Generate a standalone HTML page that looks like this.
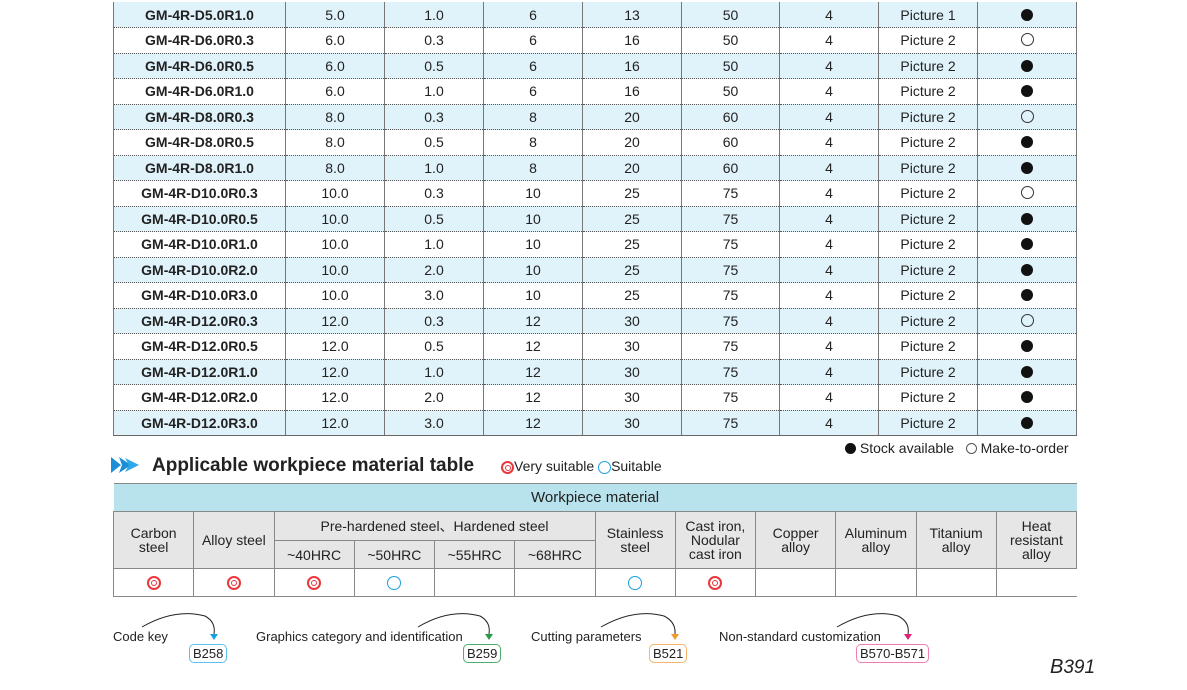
<!DOCTYPE html>
<html><head><meta charset="utf-8"><style>
*{margin:0;padding:0;box-sizing:border-box}
body{width:1187px;height:690px;background:#fff;position:relative;overflow:hidden;font-family:"Liberation Sans",sans-serif;color:#222}
table{border-collapse:collapse;table-layout:fixed;position:absolute}
#t1{left:113px;top:2px;width:963px;font-size:14px}
#t1 td{height:25.5px;text-align:center;border-left:1.5px solid #777;border-right:1.5px solid #777;border-bottom:1.5px dotted #555;padding:0;line-height:22px}
#t1 tr:nth-child(odd) td{background:#e0f3fb}
#t1 tr:last-child td{border-bottom:1.5px solid #666}
#t1 td:first-child{font-weight:bold}
.f{display:inline-block;width:12px;height:12px;border-radius:50%;background:#111;vertical-align:-1px}
.o{display:inline-block;width:13px;height:13px;border-radius:50%;border:1.2px solid #333;vertical-align:-1px}
#t2{left:113px;top:483px;width:963px;font-size:14px}
#t2 td{text-align:center;border:1.5px solid #888;padding:0;line-height:14px}
#t2 tr.h td{background:#b8e3ec;height:28px;font-size:15px;border-left:none;border-right:none}
#t2 tr.g td{background:#e6e6e6}
#t2 tr.d td{height:28px;background:#fff}
.vs{display:inline-block;width:14px;height:14px;border-radius:50%;border:2px solid #e8383d;position:relative;vertical-align:middle}
.vs:after{content:"";position:absolute;left:2px;top:2px;width:6px;height:6px;border-radius:50%;border:1.5px solid #e8383d;box-sizing:border-box}
.s{display:inline-block;width:14px;height:14px;border-radius:50%;border:1.5px solid #1aa0e0;vertical-align:middle}
.abs{position:absolute;white-space:nowrap}
.box{position:absolute;border:1.2px solid;border-radius:5px;font-size:13px;padding:0 3px;line-height:17px;height:19px}
</style></head><body>
<table id="t1">
<colgroup><col style="width:172px"><col style="width:99px"><col style="width:99px"><col style="width:99px"><col style="width:99px"><col style="width:98px"><col style="width:99px"><col style="width:99px"><col style="width:99px"></colgroup>
<tr><td>GM-4R-D5.0R1.0</td><td>5.0</td><td>1.0</td><td>6</td><td>13</td><td>50</td><td>4</td><td>Picture 1</td><td><span class="f"></span></td></tr>
<tr><td>GM-4R-D6.0R0.3</td><td>6.0</td><td>0.3</td><td>6</td><td>16</td><td>50</td><td>4</td><td>Picture 2</td><td><span class="o"></span></td></tr>
<tr><td>GM-4R-D6.0R0.5</td><td>6.0</td><td>0.5</td><td>6</td><td>16</td><td>50</td><td>4</td><td>Picture 2</td><td><span class="f"></span></td></tr>
<tr><td>GM-4R-D6.0R1.0</td><td>6.0</td><td>1.0</td><td>6</td><td>16</td><td>50</td><td>4</td><td>Picture 2</td><td><span class="f"></span></td></tr>
<tr><td>GM-4R-D8.0R0.3</td><td>8.0</td><td>0.3</td><td>8</td><td>20</td><td>60</td><td>4</td><td>Picture 2</td><td><span class="o"></span></td></tr>
<tr><td>GM-4R-D8.0R0.5</td><td>8.0</td><td>0.5</td><td>8</td><td>20</td><td>60</td><td>4</td><td>Picture 2</td><td><span class="f"></span></td></tr>
<tr><td>GM-4R-D8.0R1.0</td><td>8.0</td><td>1.0</td><td>8</td><td>20</td><td>60</td><td>4</td><td>Picture 2</td><td><span class="f"></span></td></tr>
<tr><td>GM-4R-D10.0R0.3</td><td>10.0</td><td>0.3</td><td>10</td><td>25</td><td>75</td><td>4</td><td>Picture 2</td><td><span class="o"></span></td></tr>
<tr><td>GM-4R-D10.0R0.5</td><td>10.0</td><td>0.5</td><td>10</td><td>25</td><td>75</td><td>4</td><td>Picture 2</td><td><span class="f"></span></td></tr>
<tr><td>GM-4R-D10.0R1.0</td><td>10.0</td><td>1.0</td><td>10</td><td>25</td><td>75</td><td>4</td><td>Picture 2</td><td><span class="f"></span></td></tr>
<tr><td>GM-4R-D10.0R2.0</td><td>10.0</td><td>2.0</td><td>10</td><td>25</td><td>75</td><td>4</td><td>Picture 2</td><td><span class="f"></span></td></tr>
<tr><td>GM-4R-D10.0R3.0</td><td>10.0</td><td>3.0</td><td>10</td><td>25</td><td>75</td><td>4</td><td>Picture 2</td><td><span class="f"></span></td></tr>
<tr><td>GM-4R-D12.0R0.3</td><td>12.0</td><td>0.3</td><td>12</td><td>30</td><td>75</td><td>4</td><td>Picture 2</td><td><span class="o"></span></td></tr>
<tr><td>GM-4R-D12.0R0.5</td><td>12.0</td><td>0.5</td><td>12</td><td>30</td><td>75</td><td>4</td><td>Picture 2</td><td><span class="f"></span></td></tr>
<tr><td>GM-4R-D12.0R1.0</td><td>12.0</td><td>1.0</td><td>12</td><td>30</td><td>75</td><td>4</td><td>Picture 2</td><td><span class="f"></span></td></tr>
<tr><td>GM-4R-D12.0R2.0</td><td>12.0</td><td>2.0</td><td>12</td><td>30</td><td>75</td><td>4</td><td>Picture 2</td><td><span class="f"></span></td></tr>
<tr><td>GM-4R-D12.0R3.0</td><td>12.0</td><td>3.0</td><td>12</td><td>30</td><td>75</td><td>4</td><td>Picture 2</td><td><span class="f"></span></td></tr>
</table>

<div class="abs" style="left:845px;top:440px;font-size:14px"><span class="f" style="width:11px;height:11px"></span> Stock available &nbsp; <span class="o" style="width:11px;height:11px;border-color:#555"></span> Make-to-order</div>

<svg class="abs" style="left:111px;top:455px" width="30" height="20"><polygon points="0,2 10,10 0,18" fill="#1a8fd8"/><polygon points="8,2 20,10 8,18 11,10" fill="#1a8fd8"/><polygon points="14,3 28,10 14,17 18,10" fill="#2fa8e8"/></svg>
<div class="abs" style="left:152px;top:455px;font-size:19px;font-weight:bold;color:#222">Applicable workpiece material table</div>
<div class="abs" style="left:501px;top:458px;font-size:14px"><span class="vs" style="width:13px;height:13px"></span>Very suitable <span class="s" style="width:13px;height:13px"></span>Suitable</div>

<table id="t2">
<colgroup><col span="12" style="width:80.25px"></colgroup>
<tr class="h"><td colspan="12">Workpiece material</td></tr>
<tr class="g"><td rowspan="2" style="height:57px">Carbon<br>steel</td><td rowspan="2">Alloy steel</td><td colspan="4" style="height:29px">Pre-hardened steel、Hardened steel</td><td rowspan="2">Stainless<br>steel</td><td rowspan="2">Cast iron,<br>Nodular<br>cast iron</td><td rowspan="2">Copper<br>alloy</td><td rowspan="2">Aluminum<br>alloy</td><td rowspan="2">Titanium<br>alloy</td><td rowspan="2">Heat<br>resistant<br>alloy</td></tr>
<tr class="g"><td style="height:28px">~40HRC</td><td>~50HRC</td><td>~55HRC</td><td>~68HRC</td></tr>
<tr class="d"><td><span class="vs"></span></td><td><span class="vs"></span></td><td><span class="vs"></span></td><td><span class="s"></span></td><td></td><td></td><td><span class="s"></span></td><td><span class="vs"></span></td><td></td><td></td><td></td><td style="border-right:none"></td></tr>
</table>

<svg class="abs" style="left:0;top:600px" width="1187" height="90">
<g fill="none" stroke="#222" stroke-width="1"><path d="M142,27 Q175,8 205,16 Q216,22 214,34"/><path d="M418,27 Q450,8 480,16 Q491,22 489,34"/><path d="M601,27 Q634,8 664,16 Q676,22 675,34"/><path d="M837,27 Q870,8 898,16 Q910,22 908,34"/></g>
<polygon points="210,34 218,34 214,40" fill="#1aa0e0"/><polygon points="485,34 493,34 489,40" fill="#2a9a4a"/><polygon points="671,34 679,34 675,40" fill="#f29a2e"/><polygon points="904,34 912,34 908,40" fill="#e0207a"/>
</svg>
<div class="abs" style="left:113px;top:629px;font-size:13px">Code key</div>
<div class="abs" style="left:256px;top:629px;font-size:13px">Graphics category and identification</div>
<div class="abs" style="left:531px;top:629px;font-size:13px">Cutting parameters</div>
<div class="abs" style="left:719px;top:629px;font-size:13px">Non-standard customization</div>
<div class="box" style="left:189px;top:644px;border-color:#5bc0ea">B258</div>
<div class="box" style="left:463px;top:644px;border-color:#4cae6a">B259</div>
<div class="box" style="left:649px;top:644px;border-color:#f4b56a">B521</div>
<div class="box" style="left:856px;top:644px;border-color:#ee7fb0">B570-B571</div>
<div class="abs" style="left:1050px;top:656px;font-size:20px;font-style:italic;color:#222">B<span style="font-size:19px">391</span></div>
</body></html>
